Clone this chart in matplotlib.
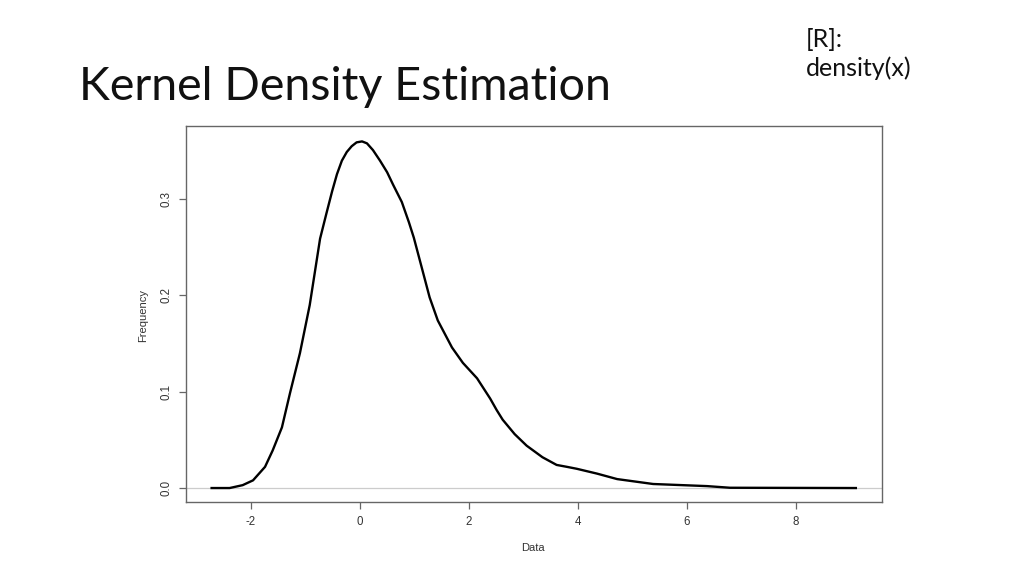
import matplotlib
matplotlib.use("Agg")
import matplotlib.pyplot as plt

# Density curve
data_x = [-2.72, -2.39, -2.15, -1.96, -1.74, -1.60, -1.43, -1.28, -1.10, -0.92,
          -0.73, -0.61, -0.51, -0.42, -0.33, -0.24, -0.15, -0.06, 0.04, 0.13,
          0.24, 0.37, 0.50, 0.61, 0.77, 0.90, 0.99, 1.14, 1.28, 1.43,
          1.69, 1.89, 2.15, 2.39, 2.51, 2.62, 2.84, 3.06, 3.35, 3.61,
          3.80, 3.98, 4.35, 4.72, 5.38, 6.37, 6.79, 9.10]
density_y = [0.0, 0.0, 0.003, 0.008, 0.022, 0.039, 0.063, 0.099, 0.140, 0.190,
             0.259, 0.286, 0.308, 0.326, 0.340, 0.349, 0.355, 0.359, 0.360, 0.358,
             0.351, 0.340, 0.328, 0.315, 0.297, 0.276, 0.260, 0.228, 0.198, 0.174,
             0.146, 0.130, 0.114, 0.093, 0.081, 0.071, 0.056, 0.044, 0.032, 0.024,
             0.022, 0.020, 0.015, 0.0093, 0.0042, 0.002, 0.0003, 0.0]

x_ticks = [-2, 0, 2, 4, 6, 8]
y_ticks = [0.0, 0.1, 0.2, 0.3]
y_tick_labels = ["0.0", "0.1", "0.2", "0.3"]

title = "Kernel Density Estimation"
note = "[R]:\ndensity(x)"

fig = plt.figure(figsize=(10.24, 5.76), dpi=100)
fig.patch.set_facecolor("white")

fig.text(79 / 1024, 1 - 87 / 576, title, fontsize=33.6, family=["Lato", "DejaVu Sans"],
         ha="left", va="center", color="#111111")
fig.text(806 / 1024, 1 - 54 / 576, note, fontsize=18, family=["Lato", "DejaVu Sans"],
         ha="left", va="center", color="#111111", linespacing=1.3)

ax = fig.add_axes([186 / 1024, 1 - 502 / 576, (882 - 186) / 1024, (502 - 126) / 576])
ax.plot(data_x, density_y, color="black", lw=1.7, solid_joinstyle="round")
ax.axhline(0, color="#cccccc", lw=0.9, zorder=0)
ax.set_xlim(-3.19, 9.58)
ax.set_ylim(-0.0145, 0.376)

ax.set_xticks(x_ticks)
ax.set_xticklabels([str(v) for v in x_ticks])
ax.set_yticks(y_ticks)
ax.set_yticklabels(y_tick_labels, rotation=90, va="center")

for s in ax.spines.values():
    s.set_color("#666666")
    s.set_linewidth(1.0)
ax.tick_params(axis="both", colors="#666666", labelcolor="#333333", length=5,
               width=0.9, labelsize=8.3, pad=5)
for lab in ax.get_xticklabels() + ax.get_yticklabels():
    lab.set_family(["Liberation Sans", "DejaVu Sans"])

fig.text(533 / 1024, 1 - 548 / 576, "Data", fontsize=8, family=["Liberation Sans"],
         ha="center", va="center", color="#333333")
fig.text(143 / 1024, 1 - 315 / 576, "Frequency", fontsize=8, family=["Liberation Sans"],
         ha="center", va="center", rotation=90, color="#333333")

fig.savefig("out.png", dpi=100, facecolor="white")
